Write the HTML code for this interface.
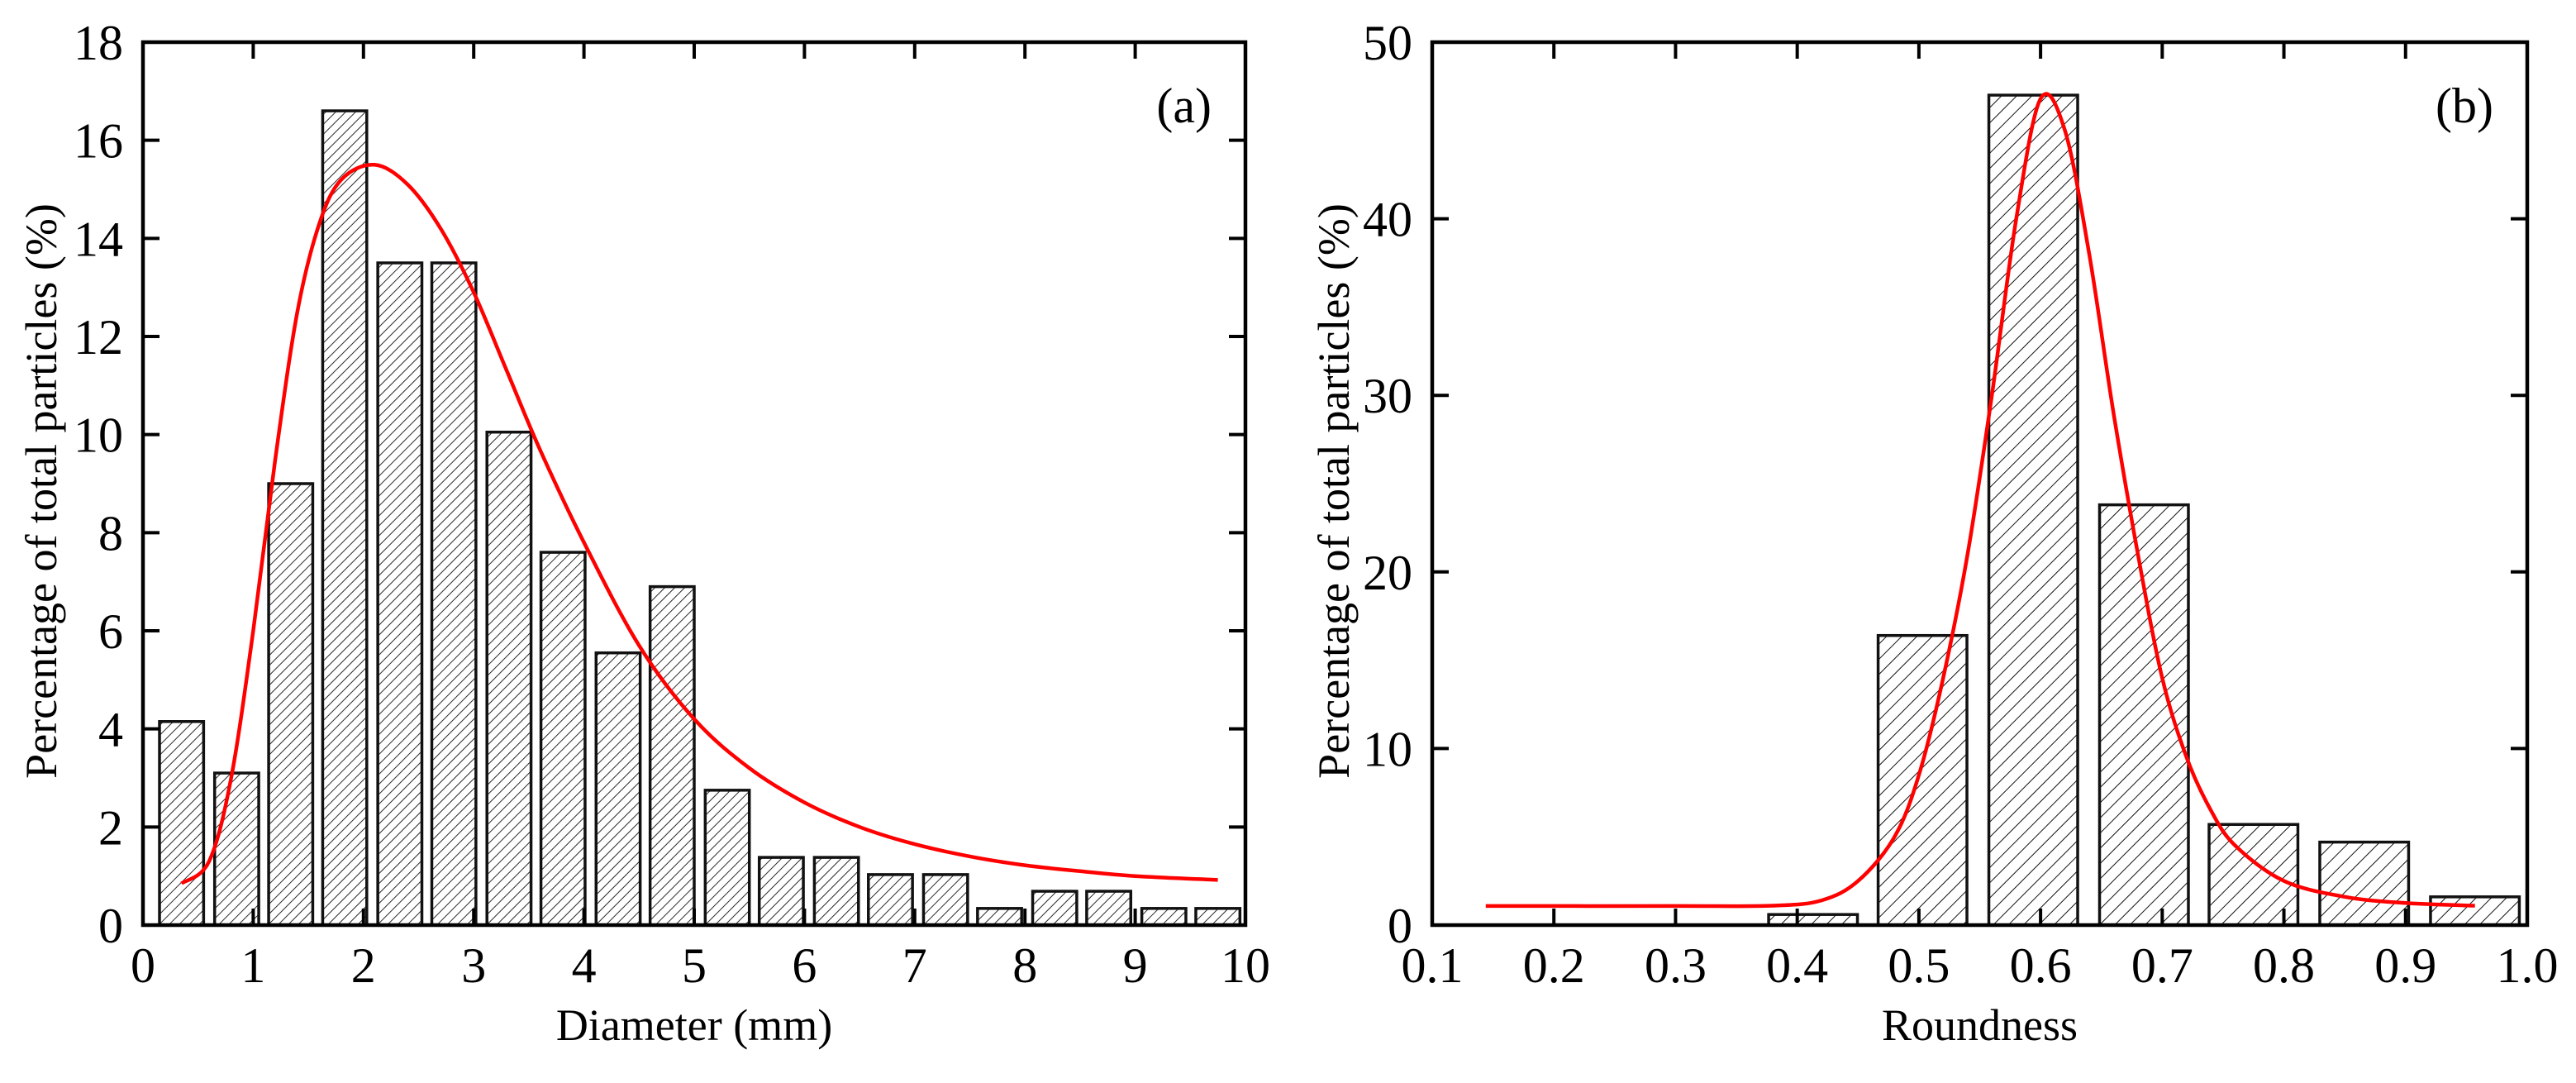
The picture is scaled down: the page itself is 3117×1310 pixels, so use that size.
<!DOCTYPE html>
<html><head><meta charset="utf-8"><style>
html,body{margin:0;padding:0;background:#fff;}
svg{display:block;}
text{font-family:"Liberation Serif",serif;fill:#000;}
</style></head><body>
<svg id="fig" width="3117" height="1310" viewBox="0 0 3117 1310" xmlns="http://www.w3.org/2000/svg">
<defs>
<pattern id="hatchA" patternUnits="userSpaceOnUse" width="8.5" height="8.5" patternTransform="rotate(45)"><line x1="0" y1="0" x2="0" y2="8.5" stroke="#111" stroke-width="1.8"/></pattern>
<pattern id="hatchB" patternUnits="userSpaceOnUse" width="13" height="13" patternTransform="rotate(45)"><line x1="0" y1="0" x2="0" y2="13" stroke="#111" stroke-width="2"/></pattern>
</defs>
<g id="panelA"></g>
<g id="panelB"></g>
</svg>
<script>
// Panel A data
const diamCenters = [0.35,0.85,1.34,1.83,2.33,2.82,3.32,3.81,4.31,4.8,5.3,5.79,6.29,6.78,7.28,7.77,8.27,8.76,9.26,9.75];
const diamValues = [4.15,3.1,9.0,16.6,13.5,13.5,10.05,7.6,5.55,6.9,2.75,1.38,1.38,1.03,1.03,0.34,0.69,0.69,0.34,0.34];
const diamFitX = [0.35,0.6,0.8,1.0,1.2,1.4,1.6,1.8,2.1,2.4,2.7,3.0,3.3,3.6,4.0,4.5,5.0,5.5,6.0,6.5,7.0,7.5,8.0,8.5,9.0,9.75];
const diamFitY = [0.85,1.3,3.0,6.0,9.5,12.5,14.3,15.2,15.5,15.1,14.2,12.9,11.3,9.7,7.8,5.7,4.2,3.2,2.5,2.0,1.65,1.4,1.22,1.1,1.0,0.92];
const diamXTicks = [0,1,2,3,4,5,6,7,8,9,10];
const diamYTicks = [0,2,4,6,8,10,12,14,16,18];
// Panel B data
const roundCenters = [0.413,0.503,0.594,0.685,0.775,0.866,0.957];
const roundValues = [0.6,16.4,47,23.8,5.7,4.7,1.6];
const roundFitX = [0.144,0.3,0.38,0.42,0.45,0.48,0.5,0.52,0.54,0.56,0.58,0.6,0.62,0.64,0.66,0.68,0.7,0.72,0.74,0.76,0.8,0.85,0.9,0.957];
const roundFitY = [1.08,1.08,1.1,1.4,2.5,5,8.5,14,21,30,40,46.8,45,38,29,21,14,9.5,6.5,4.5,2.5,1.6,1.25,1.1];
const roundXTicks = ["0.1","0.2","0.3","0.4","0.5","0.6","0.7","0.8","0.9","1.0"];
const roundYTicks = [0,10,20,30,40,50];

const NS="http://www.w3.org/2000/svg";
function mk(parent,tag,attrs,txt){const e=document.createElementNS(NS,tag);for(const k in attrs)e.setAttribute(k,attrs[k]);if(txt!==undefined)e.textContent=txt;parent.appendChild(e);return e;}
function smooth(pts){
  let d='M'+pts[0][0].toFixed(1)+' '+pts[0][1].toFixed(1);
  for(let i=0;i<pts.length-1;i++){
    const p0=pts[Math.max(0,i-1)],p1=pts[i],p2=pts[i+1],p3=pts[Math.min(pts.length-1,i+2)];
    const c1=[p1[0]+(p2[0]-p0[0])/6,p1[1]+(p2[1]-p0[1])/6];
    const c2=[p2[0]-(p3[0]-p1[0])/6,p2[1]-(p3[1]-p1[1])/6];
    d+=' C'+c1[0].toFixed(1)+' '+c1[1].toFixed(1)+' '+c2[0].toFixed(1)+' '+c2[1].toFixed(1)+' '+p2[0].toFixed(1)+' '+p2[1].toFixed(1);
  }
  return d;
}

function panel(g,o){
  const L=o.L,R=o.R,T=51,B=1119;
  const sx=v=>L+(v-o.x0)/(o.x1-o.x0)*(R-L);
  const sy=v=>B-(v-o.y0)/(o.y1-o.y0)*(B-T);
  const bw=o.barW*(R-L)/(o.x1-o.x0);
  o.centers.forEach((c,i)=>{
    const r=mk(g,'rect',{x:sx(c)-bw/2,y:sy(o.values[i]),width:bw,height:B-sy(o.values[i]),fill:'url(#'+o.hatch+')',stroke:'#111','stroke-width':3.5});
    
    
  });
  const pts=o.fitX.map((x,i)=>[sx(x),sy(o.fitY[i])]);
  const p=mk(g,'path',{d:smooth(pts),fill:'none',stroke:'#f00','stroke-width':4.5,'stroke-linejoin':'round'});
  
  
  const fr=mk(g,'rect',{x:L,y:T,width:R-L,height:B-T,fill:'none',stroke:'#000','stroke-width':4.5});
  
  
  o.xTicks.forEach(t=>{
    const x=sx(parseFloat(t));
    mk(g,'line',{x1:x,y1:B,x2:x,y2:B-20,stroke:'#000','stroke-width':4});
    mk(g,'line',{x1:x,y1:T,x2:x,y2:T+20,stroke:'#000','stroke-width':4});
    const tl=mk(g,'text',{x:x,y:1188,'font-size':60,'text-anchor':'middle'},String(t));
    
    
  });
  o.yTicks.forEach(t=>{
    const y=sy(t);
    mk(g,'line',{x1:L,y1:y,x2:L+20,y2:y,stroke:'#000','stroke-width':4});
    mk(g,'line',{x1:R,y1:y,x2:R-20,y2:y,stroke:'#000','stroke-width':4});
    const tl=mk(g,'text',{x:L-24,y:y+21,'font-size':60,'text-anchor':'end'},String(t));
    
    
  });
  const xt=mk(g,'text',{x:(L+R)/2,y:1258,'font-size':54,'text-anchor':'middle'},o.xTitle);
  
  
  const yt=mk(g,'text',{x:0,y:0,'font-size':54,'text-anchor':'middle',transform:'translate('+o.yTitleX+',594) rotate(-90)'},'Percentage of total particles (%)');
  
  
  const pl=mk(g,'text',{x:R-41,y:148,'font-size':60,'text-anchor':'end'},o.label);
  
  
}
panel(document.getElementById('panelA'),{L:173,R:1507,x0:0,x1:10,y0:0,y1:18,centers:diamCenters,values:diamValues,barW:0.4,hatch:'hatchA',fitX:diamFitX,fitY:diamFitY,xTicks:diamXTicks,yTicks:diamYTicks,xTitle:'Diameter (mm)',yTitleX:68,label:'(a)'});
panel(document.getElementById('panelB'),{L:1733,R:3058,x0:0.1,x1:1.0,y0:0,y1:50,centers:roundCenters,values:roundValues,barW:0.073,hatch:'hatchB',fitX:roundFitX,fitY:roundFitY,xTicks:roundXTicks,yTicks:roundYTicks,xTitle:'Roundness',yTitleX:1632,label:'(b)'});
</script>
</body></html>
